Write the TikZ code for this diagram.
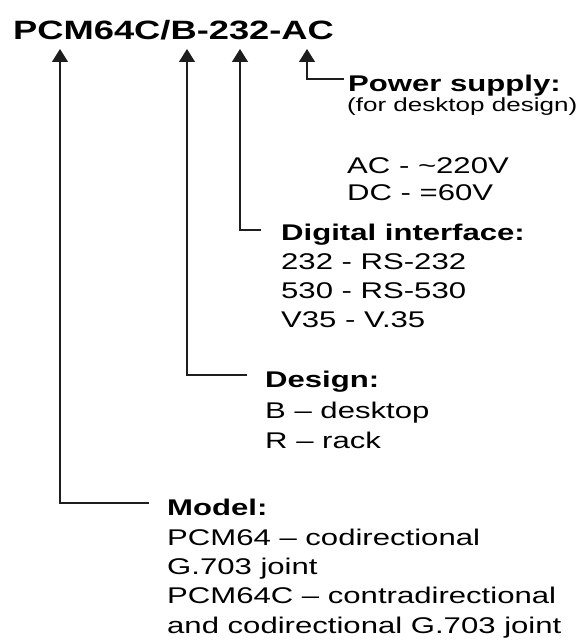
\documentclass[tikz,border=0pt]{standalone}
\usepackage{fontspec}
\setmainfont{Liberation Sans}[FakeStretch=1.37]
\usepackage{xcolor}
\usetikzlibrary{arrows.meta,positioning,calc}
\definecolor{pcink}{HTML}{000000}
\definecolor{pcwire}{HTML}{1E1E1E}

\begin{document}
\begin{tikzpicture}[x=1pt,y=-1pt,
  partno/.style={inner sep=0pt,anchor=base west,text=pcink,
                 font=\fontsize{26.5}{30}\selectfont\bfseries},
  head/.style={inner sep=0pt,anchor=base west,text=pcink,
               font=\fontsize{22.7}{29}\selectfont\bfseries},
  list/.style={inner sep=0pt,anchor=base west,align=left,text=pcink,
               font=\fontsize{22.7}{29.3}\selectfont},
  note/.style={inner sep=0pt,anchor=base west,text=pcink,
               font=\fontsize{19}{22}\selectfont},
  arr/.style={-{Triangle[width=16pt,length=13pt]},line width=1.3pt,color=pcwire}
]
\useasboundingbox (0,0) rectangle (582,642);
\node[partno] (code) at (13,40) {PCM64C/B-232-AC};
\coordinate (tipline) at ([yshift=-9pt]code.base);
% columns under the letters of the code
\coordinate (colC) at (60,0);
\coordinate (colB) at (187,0);
\coordinate (colIf) at (240,0);
\coordinate (colAC) at (307,0);
% text blocks (a list sits on the baseline of its last line)
\node[head] (power) at (348,91) {Power supply:};
\node[note] (powernote) at (347,111) {(for desktop design)};
\node[list,font=\fontsize{22.7}{27}\selectfont] (powerlist) at (347,200)
  {AC - \textasciitilde 220V\\DC - =60V};
\node[head] (iface) at (281,240) {Digital interface:};
\node[list,font=\fontsize{22.7}{29}\selectfont] (ifacelist) at (281,327)
  {232 - RS-232\\530 - RS-530\\V35 - V.35};
\node[head] (design) at (265,387) {Design:};
\node[list,font=\fontsize{22.7}{30}\selectfont] (designlist) at (265,448)
  {B – desktop\\R – rack};
\node[head] (model) at (167,515) {Model:};
\node[list] (modellist) at (167,633)
  {PCM64 – codirectional\\G.703 joint\\PCM64C – contradirectional\\and codirectional G.703 joint};
% leaders
\coordinate (powerStub) at ([xshift=-4pt,yshift=12pt]power.base west);
\coordinate (ifaceStub) at ([xshift=-20pt,yshift=10pt]iface.base west);
\coordinate (designStub) at ([xshift=-18pt,yshift=12pt]design.base west);
\coordinate (modelStub) at ([xshift=-18pt,yshift=12pt]model.base west);
\draw[arr] (powerStub) -- (powerStub -| colAC) -- (colAC |- tipline);
\draw[arr] (ifaceStub) -- (ifaceStub -| colIf) -- (colIf |- tipline);
\draw[arr] (designStub) -- (designStub -| colB) -- (colB |- tipline);
\draw[arr] (modelStub) -- (modelStub -| colC) -- (colC |- tipline);
\end{tikzpicture}
\end{document}
